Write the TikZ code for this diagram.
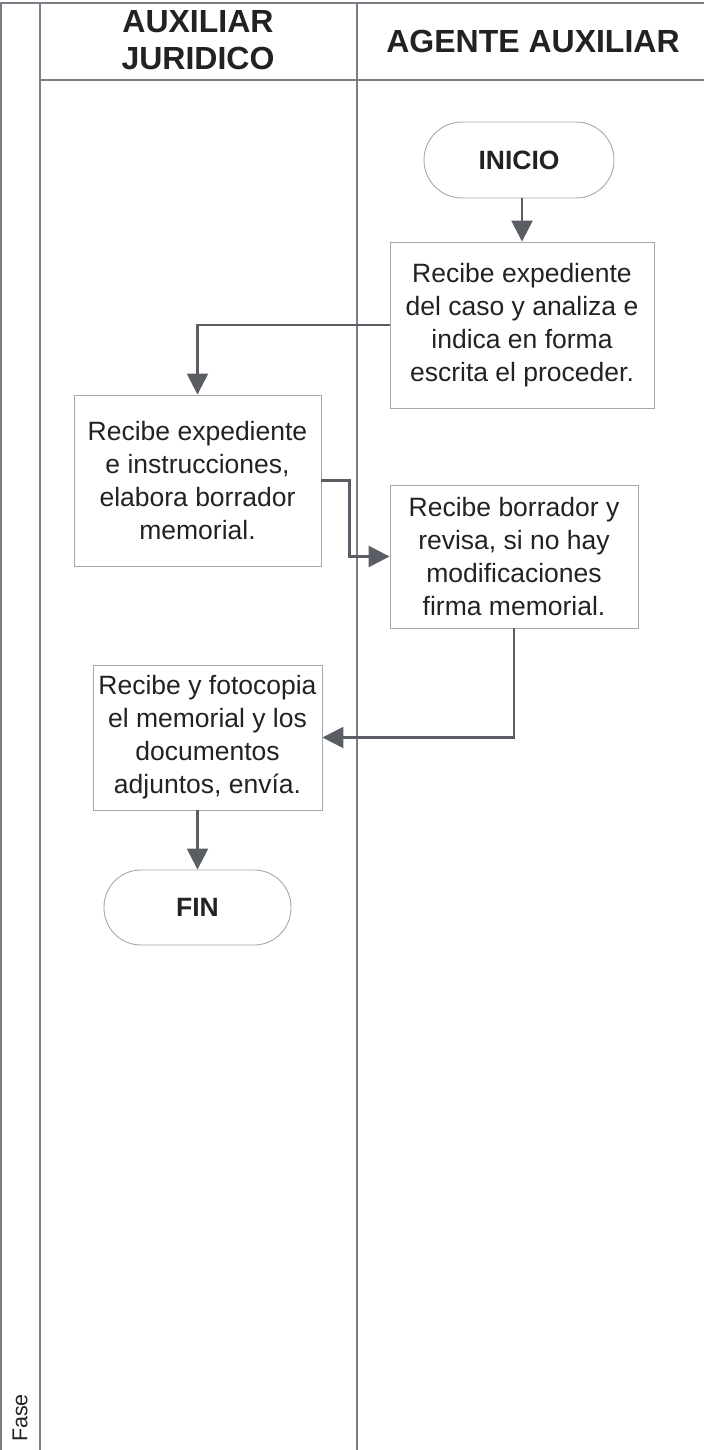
\documentclass[tikz,border=0pt]{standalone}
\usepackage{fontspec}
\setmainfont{Liberation Sans}
\usepackage{tikz}
\usetikzlibrary{arrows.meta,positioning}
\definecolor{lanegray}{HTML}{7A7F86}
\definecolor{boxgray}{HTML}{A4A8AC}
\definecolor{flowgray}{HTML}{5A5E64}
\definecolor{inkgray}{HTML}{222222}
\newcommand{\bodysize}{\fontsize{26.5}{33}\selectfont}
\newcommand{\headsize}{\fontsize{32}{37}\selectfont\bfseries}

\begin{document}
\begin{tikzpicture}[x=1pt,y=-1pt,
        lane/.style={draw=lanegray,line width=1.6pt},
        flow/.style={draw=flowgray,line width=2.6pt,-{Triangle[length=21pt,width=21pt]}},
        every node/.style={text=inkgray,inner sep=0pt}]
    \useasboundingbox (0,0) rectangle (704,1450);

    % lanes
    \draw[lane] (0,3) -- (704,3);
    \draw[lane] (1,3) -- (1,1450);
    \draw[lane] (40,3) -- (40,1450);
    \draw[lane] (357,3) -- (357,1450);
    \draw[lane] (40,80) -- (704,80);

    \node [font=\headsize,align=center] (jur) at (198,40) {AUXILIAR\\JURIDICO};
    \node [font=\headsize] (age) at (533,41) {AGENTE AUXILIAR};
    \node [font=\fontsize{21.5}{24}\selectfont,rotate=90] (fase) at (20,1418) {Fase};

    \begin{scope}[every node/.style={draw=boxgray,line width=0.9pt,align=center,font=\bodysize,text=inkgray,inner sep=0pt}]
        \node [rounded corners=38pt,minimum width=190pt,minimum height=76pt,font=\bodysize\bfseries] (inicio) at (519,160) {INICIO};
        \node [minimum width=264pt,minimum height=166pt] (analiza) at (522,325)
            {Recibe expediente\\del caso y analiza e\\indica en forma\\escrita el proceder.};
        \node [minimum width=247pt,minimum height=171pt] (borrador) at (197.5,480.5)
            {Recibe expediente\\e instrucciones,\\elabora borrador\\memorial.};
        \node [minimum width=248pt,minimum height=143pt] (revisa) at (514,556.5)
            {Recibe borrador y\\revisa, si no hay\\modificaciones\\firma memorial.};
        \node [minimum width=229pt,minimum height=145pt] (fotocopia) at (207.5,737.5)
            {Recibe y fotocopia\\el memorial y los\\documentos\\adjuntos, envía.};
        \node [rounded corners=37pt,minimum width=187pt,minimum height=75pt,font=\bodysize\bfseries] (fin) at (197.5,907.5) {FIN};
    \end{scope}

    \draw[flow] (analiza |- inicio.south) -- (analiza.north);
    \draw[flow] (analiza.west) -| (borrador.north);
    \draw[flow] (borrador.east) -- ++(28,0) |- (revisa.west);
    \draw[flow] (revisa.south) |- (fotocopia.east);
    \draw[flow] (fin |- fotocopia.south) -- (fin.north);
\end{tikzpicture}
\end{document}
